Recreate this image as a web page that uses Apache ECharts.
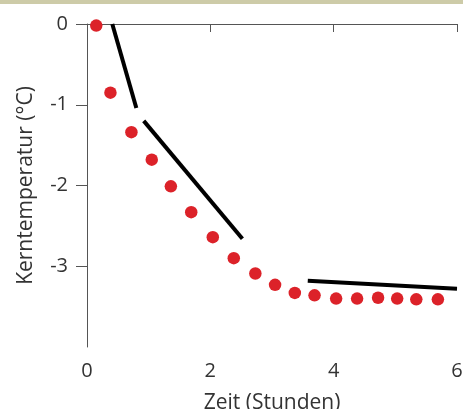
<!DOCTYPE html>
<html><head><meta charset="utf-8">
<script src="https://cdn.jsdelivr.net/npm/echarts@6/dist/echarts.min.js"></script>
<style>html,body{margin:0;padding:0;background:#fff}#band{position:absolute;left:0;top:0;width:463px;height:4px;background:#cdcba8}#c{width:463px;height:409px}</style>
</head><body><div id="band"></div><div id="c"></div>
<script>
const timeHours = [0.15, 0.38, 0.72, 1.05, 1.36, 1.69, 2.04, 2.38, 2.73, 3.05, 3.37, 3.69, 4.04, 4.38, 4.72, 5.03, 5.34, 5.69];
const coreTemp = [-0.02, -0.85, -1.34, -1.68, -2.01, -2.33, -2.64, -2.90, -3.09, -3.23, -3.33, -3.36, -3.40, -3.40, -3.39, -3.40, -3.41, -3.41];
const trend1 = [[0.41, 0.0], [0.80, -1.04]];
const trend2 = [[0.92, -1.20], [2.52, -2.66]];
const trend3 = [[3.58, -3.18], [6.0, -3.28]];
const xTicks = [0, 2, 4, 6];
const yTicks = [0, -1, -2, -3];

const font = '"Open Sans", "Noto Sans", sans-serif';
const chart = echarts.init(document.getElementById('c'));
const lineSeries = (d) => ({type:'line', data:d, symbol:'none', lineStyle:{color:'#000', width:4}, silent:true, z:3});
chart.setOption({
  animation:false,
  grid:{left:87, right:6, top:24, bottom:62, containLabel:false, outerBoundsMode:'none'},
  xAxis:{type:'value', min:0, max:6, interval:2,
    name:'Zeit (Stunden)', nameLocation:'middle', nameGap:46,
    nameTextStyle:{fontFamily:font, fontSize:21, color:'#333'},
    axisLine:{lineStyle:{color:'#555', width:1}},
    axisTick:{show:true, length:8, lineStyle:{color:'#555'}, customValues:xTicks},
    axisLabel:{fontFamily:font, fontSize:20, color:'#333', margin:14, customValues:xTicks},
    splitLine:{show:false}},
  yAxis:{type:'value', min:-4, max:0, interval:1,
    name:'Kerntemperatur (°C)', nameLocation:'middle', nameGap:50, nameRotate:90,
    nameTextStyle:{fontFamily:font, fontSize:21, color:'#333'},
    axisLine:{show:true, lineStyle:{color:'#555', width:1}},
    axisTick:{show:true, length:11, lineStyle:{color:'#555'}, customValues:yTicks},
    axisLabel:{fontFamily:font, fontSize:20, color:'#333', margin:19, customValues:yTicks},
    splitLine:{show:false}},
  series:[
    {type:'scatter', data:timeHours.map((t,i)=>[t, coreTemp[i]]), symbolSize:12.5, itemStyle:{color:'#dc2229', opacity:1}, z:4},
    lineSeries(trend1), lineSeries(trend2), lineSeries(trend3)
  ]
});
</script></body></html>
